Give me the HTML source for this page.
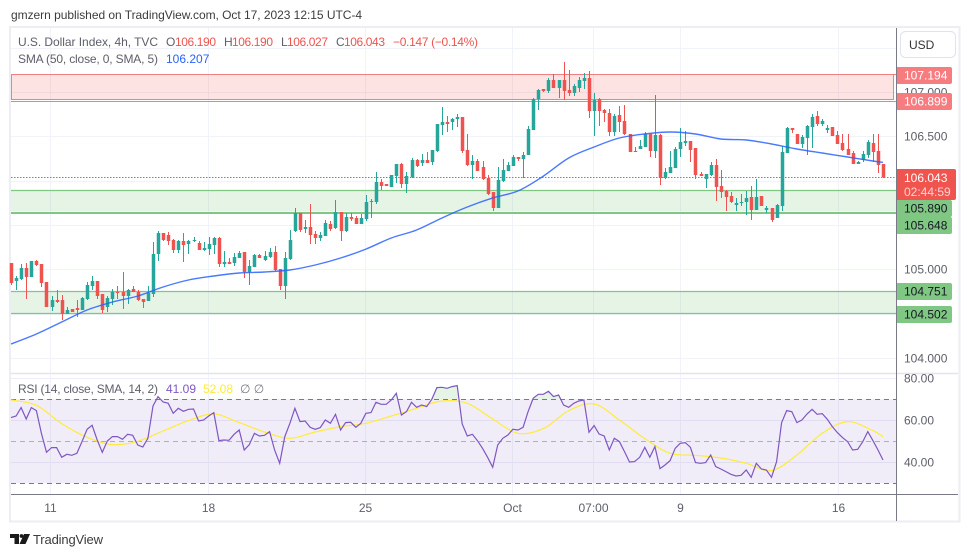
<!DOCTYPE html>
<html lang="en">
<head>
<meta charset="utf-8">
<title>U.S. Dollar Index chart</title>
<style>
html,body{margin:0;padding:0;background:#fff;width:970px;height:557px;overflow:hidden}
svg{display:block;font-family:"Liberation Sans",sans-serif}
text{font-size:12px}
</style>
</head>
<body>
<svg id="chart" xmlns="http://www.w3.org/2000/svg" width="970" height="557" viewBox="0 0 970 557">
  <rect x="0" y="0" width="970" height="557" fill="#ffffff"/>
  <text x="11" y="19" fill="#3c3c3c" style="font-size:12px" textLength="351" lengthAdjust="spacing">gmzern published on TradingView.com, Oct 17, 2023 12:15 UTC-4</text>
  <rect x="10" y="27" width="949.5" height="494.5" fill="#fff" stroke="#eceef4" stroke-width="2"/>

  <g id="grid"></g>
  <g id="zones"></g>
  <g id="candles"></g>
  <line id="last-line" stroke="#ef5350" stroke-width="1" stroke-dasharray="1.5 1.5"/>
  <path id="sma" fill="none" stroke="#2962ff" stroke-opacity=".85" stroke-width="1.4"/>

  <g id="rsi-pane"></g>

  <line x1="11" y1="373.5" x2="958" y2="373.5" stroke="#e3e5eb" stroke-width="1.5"/>
  <line x1="11" y1="494.5" x2="958" y2="494.5" stroke="#787b86" stroke-width="1"/>
  <line x1="896.5" y1="28" x2="896.5" y2="521" stroke="#787b86" stroke-width="1"/>

  <g id="time-labels"></g>
  <g id="price-labels"></g>
  <g id="rsi-labels"></g>
  <g id="tags"></g>

  <g>
    <rect x="900.5" y="31.5" width="55" height="26" rx="5" fill="#fff" stroke="#e0e3eb"/>
    <text x="909" y="49" fill="#333">USD</text>
  </g>

  <g>
    <text x="18" y="46" fill="#5d606b" textLength="140" lengthAdjust="spacing">U.S. Dollar Index, 4h, TVC</text>
    <text x="166" y="46" fill="#5d606b">O</text>
    <text x="175" y="46" fill="#ef5350" textLength="41" lengthAdjust="spacing">106.190</text>
    <text x="224" y="46" fill="#5d606b">H</text>
    <text x="232" y="46" fill="#ef5350" textLength="41" lengthAdjust="spacing">106.190</text>
    <text x="281" y="46" fill="#5d606b">L</text>
    <text x="287" y="46" fill="#ef5350" textLength="41" lengthAdjust="spacing">106.027</text>
    <text x="336" y="46" fill="#5d606b">C</text>
    <text x="344" y="46" fill="#ef5350" textLength="41" lengthAdjust="spacing">106.043</text>
    <text x="393" y="46" fill="#ef5350" textLength="85" lengthAdjust="spacing">−0.147 (−0.14%)</text>
    <text x="18" y="63" fill="#5d606b" textLength="140" lengthAdjust="spacing">SMA (50, close, 0, SMA, 5)</text>
    <text x="166" y="63" fill="#2962ff">106.207</text>
  </g>
  <g>
    <text x="18" y="393" fill="#5d606b" textLength="140" lengthAdjust="spacing">RSI (14, close, SMA, 14, 2)</text>
    <text x="166" y="393" fill="#7e57c2">41.09</text>
    <text x="203" y="393" fill="#ffeb3b">52.08</text>
    <text x="240" y="393" fill="#787b86">∅  ∅</text>
  </g>

  <g>
    <path fill="#1a1a1a" d="M10 534h9v10h-4.500v-6h-4.500z M24 534h6l-4.500 10h-6z"/>
    <circle cx="21.500" cy="536" r="1.900" fill="#1a1a1a"/>
    <text x="33" y="544" fill="#3c3c3c" style="font-size:13px" textLength="70" lengthAdjust="spacing">TradingView</text>
  </g>
</svg>
<script>
var opens=[105.071,104.869,104.891,105.015,104.914,105.094,105.060,104.857,104.575,104.654,104.654,104.496,104.552,104.564,104.541,104.665,104.812,104.869,104.722,104.575,104.665,104.744,104.744,104.699,104.778,104.744,104.665,104.643,104.722,105.173,105.410,105.388,105.331,105.218,105.320,105.286,105.320,105.297,105.218,105.229,105.275,105.354,105.060,105.082,105.071,105.128,105.195,104.970,105.026,105.162,105.105,105.139,105.195,105.004,104.812,105.116,105.433,105.636,105.455,105.478,105.399,105.354,105.376,105.512,105.466,105.647,105.433,105.591,105.580,105.512,105.568,105.772,105.760,105.985,105.963,105.929,106.053,106.189,105.963,106.042,106.234,106.200,106.234,106.211,106.336,106.630,106.663,106.663,106.697,106.720,106.347,106.178,106.223,106.155,106.031,105.873,105.693,105.997,106.110,106.166,106.268,106.245,106.291,106.573,106.923,107.035,107.013,107.137,107.047,107.137,107.024,106.990,107.047,107.126,107.160,106.787,106.923,106.798,106.764,106.550,106.742,106.675,106.528,106.324,106.358,106.381,106.528,106.336,106.517,106.031,106.087,106.143,106.358,106.426,106.449,106.370,106.076,106.019,106.065,106.178,105.941,105.885,105.828,105.727,105.749,105.760,105.817,105.670,105.828,105.670,105.693,105.580,105.715,106.313,106.595,106.528,106.415,106.483,106.607,106.731,106.641,106.573,106.607,106.517,106.426,106.358,106.313,106.189,106.234,106.291,106.426,106.336,106.190];
var highs=[105.071,104.925,105.060,105.071,105.094,105.105,105.060,104.857,104.699,104.767,104.711,104.575,104.552,104.654,104.688,104.857,104.925,104.869,104.722,104.699,104.778,104.812,104.970,104.778,104.812,104.767,104.665,104.812,105.308,105.433,105.410,105.421,105.342,105.331,105.410,105.331,105.365,105.320,105.308,105.365,105.365,105.365,105.207,105.128,105.184,105.207,105.195,105.105,105.173,105.173,105.207,105.241,105.263,105.004,105.195,105.444,105.693,105.636,105.557,105.738,105.433,105.421,105.557,105.546,105.783,105.647,105.636,105.636,105.602,105.625,105.839,105.794,106.098,106.019,105.963,106.065,106.189,106.200,106.098,106.257,106.245,106.302,106.324,106.347,106.641,106.832,106.731,106.708,106.753,106.720,106.528,106.291,106.245,106.223,106.065,105.873,106.155,106.245,106.211,106.291,106.268,106.324,106.618,106.934,107.035,107.035,107.160,107.205,107.137,107.340,107.250,107.092,107.171,107.216,107.239,106.990,106.934,106.810,106.810,106.753,106.844,106.855,106.528,106.381,106.460,106.550,106.528,106.968,106.528,106.143,106.336,106.381,106.595,106.562,106.449,106.370,106.098,106.076,106.211,106.245,106.121,105.896,105.873,105.806,105.851,105.885,105.941,106.019,105.828,105.715,105.693,105.738,106.392,106.607,106.595,106.528,106.517,106.630,106.753,106.787,106.697,106.630,106.607,106.562,106.528,106.528,106.336,106.223,106.336,106.460,106.528,106.528,106.190];
var lows=[104.824,104.767,104.880,104.665,104.914,105.037,104.801,104.575,104.530,104.620,104.428,104.496,104.518,104.462,104.541,104.654,104.767,104.665,104.507,104.518,104.598,104.665,104.552,104.609,104.744,104.643,104.564,104.643,104.688,105.094,105.320,105.275,105.184,105.184,105.082,105.173,105.308,105.218,105.207,105.162,105.173,105.026,105.026,105.060,105.037,105.128,104.903,104.824,105.026,105.128,105.094,105.128,104.982,104.767,104.665,105.105,105.421,105.421,105.410,105.286,105.286,105.320,105.376,105.433,105.455,105.320,105.421,105.546,105.512,105.512,105.546,105.580,105.738,105.896,105.941,105.929,105.974,105.918,105.862,106.031,106.155,106.166,106.200,106.178,106.324,106.517,106.550,106.573,106.607,106.313,106.166,106.019,106.110,106.008,105.839,105.659,105.693,105.985,106.110,106.166,106.223,106.031,106.291,106.573,106.798,107.002,106.990,107.047,106.934,106.911,106.956,106.956,107.002,107.035,106.708,106.505,106.618,106.663,106.505,106.505,106.550,106.517,106.324,106.324,106.358,106.381,106.268,106.257,105.952,106.019,106.087,106.143,106.268,106.392,106.211,106.019,106.053,105.918,106.053,105.772,105.806,105.659,105.749,105.659,105.715,105.614,105.557,105.670,105.715,105.636,105.534,105.580,105.659,106.313,106.539,106.415,106.370,106.291,106.370,106.618,106.618,106.539,106.505,106.415,106.336,106.291,106.189,106.189,106.211,106.257,106.211,106.087,106.027];
var closes=[104.846,104.903,105.015,104.914,105.094,105.049,104.846,104.575,104.654,104.631,104.496,104.541,104.518,104.541,104.677,104.824,104.869,104.699,104.541,104.677,104.744,104.733,104.699,104.767,104.744,104.654,104.631,104.733,105.173,105.410,105.331,105.320,105.218,105.320,105.275,105.320,105.331,105.218,105.241,105.286,105.354,105.060,105.082,105.060,105.139,105.184,104.970,105.037,105.162,105.128,105.150,105.195,104.993,104.812,105.128,105.331,105.636,105.444,105.478,105.388,105.354,105.388,105.523,105.455,105.647,105.433,105.591,105.568,105.512,105.580,105.760,105.760,105.985,105.941,105.941,106.065,106.189,105.963,106.053,106.234,106.166,106.234,106.200,106.347,106.641,106.663,106.641,106.697,106.720,106.336,106.178,106.223,106.110,106.019,105.851,105.693,106.008,106.121,106.178,106.268,106.245,106.291,106.584,106.923,107.024,107.013,107.137,107.047,107.137,107.013,106.990,107.069,107.137,107.160,106.787,106.911,106.787,106.764,106.550,106.731,106.663,106.528,106.324,106.336,106.392,106.528,106.336,106.517,106.031,106.098,106.155,106.358,106.437,106.449,106.347,106.065,106.053,106.076,106.178,105.929,105.873,105.817,105.760,105.749,105.760,105.806,105.670,105.817,105.715,105.693,105.557,105.727,106.324,106.595,106.573,106.415,106.494,106.618,106.720,106.641,106.675,106.595,106.505,106.415,106.347,106.291,106.189,106.211,106.302,106.437,106.324,106.178,106.043];

var smaIndex=[0,5,10,15,20,25,30,35,40,45,50,55,60,65,70,75,80,85,90,95,100,105,110,115,120,125,130,135,140,145,150,155,160,165,170,172];
var smaValues=[104.157,104.270,104.406,104.541,104.631,104.699,104.801,104.880,104.925,104.959,104.970,104.993,105.049,105.128,105.229,105.354,105.444,105.580,105.704,105.806,105.885,106.053,106.257,106.381,106.483,106.528,106.550,106.528,106.471,106.460,106.415,106.358,106.313,106.268,106.223,106.207];

var rsiValues=[61.27,62.06,66.03,60.63,66.03,64.60,53.81,44.76,46.98,46.98,42.38,43.81,43.33,44.29,49.84,55.71,57.62,50.63,44.76,50.16,52.22,52.22,50.95,53.33,52.86,48.25,47.30,51.43,66.83,71.27,68.73,68.10,63.33,65.71,64.29,65.24,65.40,59.68,60.16,62.06,63.65,50.32,50.63,50.48,53.33,55.40,45.87,48.41,53.81,52.54,52.86,54.60,45.87,39.52,52.22,58.57,65.71,59.37,59.68,56.67,55.71,56.51,60.16,58.57,62.86,55.40,58.89,59.05,56.67,58.57,63.33,63.65,68.57,67.62,67.62,69.68,72.86,62.54,64.13,68.57,66.19,67.30,66.51,70.00,75.56,75.71,75.24,76.03,76.51,58.25,52.54,53.33,50.32,46.67,42.38,37.62,48.25,51.43,53.02,55.71,55.40,56.67,64.13,70.48,72.38,72.38,73.81,71.27,72.06,67.30,66.19,68.10,69.21,69.68,54.29,57.46,53.49,52.54,45.87,51.43,49.84,45.08,40.16,40.32,42.38,47.14,42.38,47.46,36.98,38.73,40.79,46.67,49.05,49.37,47.14,39.84,39.52,39.84,43.49,37.94,36.83,35.56,34.29,33.49,33.81,36.35,32.86,39.52,36.83,36.35,32.86,40.32,58.89,64.60,64.13,58.89,60.16,63.02,65.24,62.86,63.17,60.48,56.98,54.13,51.75,49.84,45.87,46.19,49.84,54.60,50.32,45.87,41.09];
var rsiMaIndex=[0,5,10,15,20,25,30,35,40,45,50,55,60,65,70,75,80,85,90,95,100,105,110,115,120,125,130,135,140,145,150,155,160,165,170,172];
var rsiMaValues=[69.68,67.14,58.41,51.90,48.41,50,54.92,59.84,63.02,58.89,54.44,51.43,54.44,56.98,58.57,62.06,65.71,69.21,68.10,60.63,53.81,56.03,64.60,67.78,60.16,51.27,44.29,43.33,42.06,39.52,36.03,43.49,53.81,59.37,55.08,52.08];

var priceTicks=[104,104.5,105,105.5,106,106.5,107,107.5];
var priceTickLabels=['104.000','104.500','105.000','105.500','106.000','106.500','107.000','107.500'];
var rsiTicks=[80,60,40];
var rsiTickLabels=['80.00','60.00','40.00'];
var rsiBands=[70,50,30];
var timeCandleIndex=[7.6,38.8,69.8,98.8,114.8,132,163.1];
var timeLabels=['11','18','25','Oct','07:00','9','16'];
var resistanceZone=[107.194,106.917];
var resistanceLevels=[107.194,106.899];
var supportZones=[[105.890,105.648],[104.751,104.502]];
var lastPrice=106.043;

var SVGNS='http://www.w3.org/2000/svg';
var LEFT=11,RIGHT=896,CANDLE_STEP=5.07;
function xAt(i){return 11+CANDLE_STEP*i;}
function yPrice(p){return 190.5+(105.89-p)*88.6;}
function yRsi(v){return 441.3-(v-50)*2.1;}
function make(tag,parent,attrs){
  var el=document.createElementNS(SVGNS,tag);
  for(var k in attrs){el.setAttribute(k,attrs[k]);}
  parent.appendChild(el);
  return el;
}
function smoothPath(pts){
  var d='M'+pts[0][0].toFixed(1)+' '+pts[0][1].toFixed(1);
  for(var i=0;i<pts.length-1;i++){
    var p0=pts[Math.max(i-1,0)],p1=pts[i],p2=pts[i+1],p3=pts[Math.min(i+2,pts.length-1)];
    var c1x=p1[0]+(p2[0]-p0[0])/6,c1y=p1[1]+(p2[1]-p0[1])/6;
    var c2x=p2[0]-(p3[0]-p1[0])/6,c2y=p2[1]-(p3[1]-p1[1])/6;
    d+='C'+c1x.toFixed(1)+' '+c1y.toFixed(1)+' '+c2x.toFixed(1)+' '+c2y.toFixed(1)+' '+p2[0].toFixed(1)+' '+p2[1].toFixed(1);
  }
  return d;
}
var grid=document.getElementById('grid');
priceTicks.forEach(function(p,i){
  var y=Math.round(yPrice(p))+.5;
  var el=make('line',grid,{x1:LEFT,x2:RIGHT,y1:y,y2:y,stroke:'#f0f3fa'});
  
  
});
rsiTicks.forEach(function(v){
  var y=Math.round(yRsi(v))+.5;
  var el=make('line',grid,{x1:LEFT,x2:RIGHT,y1:y,y2:y,stroke:'#eceef8'});
  
  
});
timeCandleIndex.forEach(function(t){
  var x=Math.round(xAt(t))+.5;
  var el=make('line',grid,{x1:x,x2:x,y1:28,y2:494,stroke:'#f0f3fa'});
  
  
});

var zones=document.getElementById('zones');
var rzTop=Math.floor(yPrice(resistanceZone[0]))+.5,rzBottom=Math.floor(yPrice(resistanceZone[1]))+.5;
var rz=make('rect',zones,{x:11.5,y:rzTop,width:882,height:rzBottom-rzTop,fill:'#f44336','fill-opacity':'.15',stroke:'#f08080','stroke-width':1});


resistanceLevels.forEach(function(p){
  var y=Math.floor(yPrice(p))+.5;
  var el=make('line',zones,{x1:11,x2:RIGHT,y1:y,y2:y,stroke:'#f08080'});
  
  
});
supportZones.forEach(function(z,i){
  var y1=Math.floor(yPrice(z[0]))+.5,y2=Math.floor(yPrice(z[1]))+.5;
  var el=make('rect',zones,{x:11,y:y1,width:RIGHT-11,height:y2-y1,fill:'#4caf50','fill-opacity':'.14'});
  
  
  z.forEach(function(p,j){
    var thick=(i===0&&j===1);
    var y=thick?Math.round(yPrice(p))+1:Math.floor(yPrice(p))+.5;
    var ln=make('line',zones,{x1:11,x2:RIGHT,y1:y,y2:y,stroke:'#7fc782','stroke-width':thick?2:1.3});
    
    
  });
});

var candles=document.getElementById('candles');
opens.forEach(function(o,i){
  var c=closes[i],h=highs[i],l=lows[i];
  var col=c<o?'#ef5350':'#26a69a';
  var cx=Math.round(xAt(i));
  var g=make('g',candles,{});
  
  
  var yh=Math.round(yPrice(h)),yl=Math.round(yPrice(l));
  var wick=make('rect',g,{x:cx,y:yh,width:1,height:Math.max(1,yl-yh),fill:col});
  
  
  var t=Math.round(yPrice(Math.max(o,c))),b=Math.round(yPrice(Math.min(o,c)));
  var body=make('rect',g,{x:cx-1.25,y:t,width:3.5,height:Math.max(1,b-t),fill:col});
  
  
});

var ll=document.getElementById('last-line');
ll.setAttribute('x1',11);ll.setAttribute('x2',RIGHT);
ll.setAttribute('y1',Math.round(yPrice(lastPrice))+.5);ll.setAttribute('y2',Math.round(yPrice(lastPrice))+.5);

document.getElementById('sma').setAttribute('d',smoothPath(smaValues.map(function(v,i){return [xAt(smaIndex[i]),yPrice(v)];})));

var rp=document.getElementById('rsi-pane');
var y70=yRsi(rsiBands[0]),y30=yRsi(rsiBands[2]);
var band=make('rect',rp,{x:LEFT,y:y70,width:RIGHT-LEFT,height:y30-y70,fill:'#7e57c2','fill-opacity':'.11'});


rsiBands.forEach(function(v,i){
  var y=Math.round(yRsi(v))+.5;
  var el=make('line',rp,{x1:LEFT,x2:RIGHT,y1:y,y2:y,stroke:'#787b86','stroke-dasharray':'5 4','stroke-opacity':i===1?'.55':'1'});
  
  
});
var defs=make('defs',rp,{});
var clip=make('clipPath',defs,{id:'above70'});
make('rect',clip,{x:LEFT,y:370,width:RIGHT-LEFT,height:y70-370});
var rsiPts=rsiValues.map(function(v,i){return xAt(i).toFixed(1)+','+yRsi(v).toFixed(1);});
var ob=make('polygon',rp,{points:[xAt(0).toFixed(1)+','+y70].concat(rsiPts,[xAt(rsiValues.length-1).toFixed(1)+','+y70]).join(' '),fill:'#4caf50','fill-opacity':'.14','clip-path':'url(#above70)'});


var ma=make('path',rp,{d:smoothPath(rsiMaValues.map(function(v,i){return [xAt(rsiMaIndex[i]),yRsi(v)];})),fill:'none',stroke:'#ffeb3b','stroke-width':1.2});


var rl=make('polyline',rp,{points:rsiPts.join(' '),fill:'none',stroke:'#7e57c2','stroke-width':1.2});



var tl=document.getElementById('time-labels');
timeLabels.forEach(function(s,i){
  var el=make('text',tl,{x:Math.round(xAt(timeCandleIndex[i]))+.5,y:512,'text-anchor':'middle',fill:'#5d606b'});
  
  
  el.textContent=s;
});
var pl=document.getElementById('price-labels');
priceTicks.forEach(function(p,i){
  var el=make('text',pl,{x:904,y:Math.round(yPrice(p))+4.5,fill:'#5d606b'});
  
  
  el.textContent=priceTickLabels[i];
});
var rl2=document.getElementById('rsi-labels');
rsiTicks.forEach(function(v,i){
  var el=make('text',rl2,{x:904,y:Math.round(yRsi(v))+4.5,fill:'#5d606b'});
  
  
  el.textContent=rsiTickLabels[i];
});

var tagsRoot=document.getElementById('tags');
var tagPrices=[107.194,106.899,105.890,105.648,104.751,104.502];
var tagKinds=['res','res','sup','sup','sup','sup'];
var tagCenters=[75,101,208,225,291,314];
function tagBox(y,h,w,fill){
  var el=make('path',tagsRoot,{d:'M897 '+y+'h'+(w-3)+'a2 2 0 0 1 2 2v'+(h-4)+'a2 2 0 0 1 -2 2h-'+(w-3)+'z',fill:fill});
  
  
}
tagPrices.forEach(function(p,i){
  var cy=tagCenters[i];
  var res=tagKinds[i]==='res';
  tagBox(cy-8,17,56,res?'#f77c80':'#81c784');
  var el=make('text',tagsRoot,{x:904,y:cy+4.5,fill:res?'#ffffff':'#131722'});
  
  
  el.textContent=p.toFixed(3);
});
tagBox(169,31,60,'#f0544f');
var lp=make('text',tagsRoot,{x:904,y:182,fill:'#ffffff'});


lp.textContent=lastPrice.toFixed(3);
var cd=make('text',tagsRoot,{x:904,y:196,fill:'#ffffff','fill-opacity':'.75'});


cd.textContent='02:44:59';
</script>
</body>
</html>
